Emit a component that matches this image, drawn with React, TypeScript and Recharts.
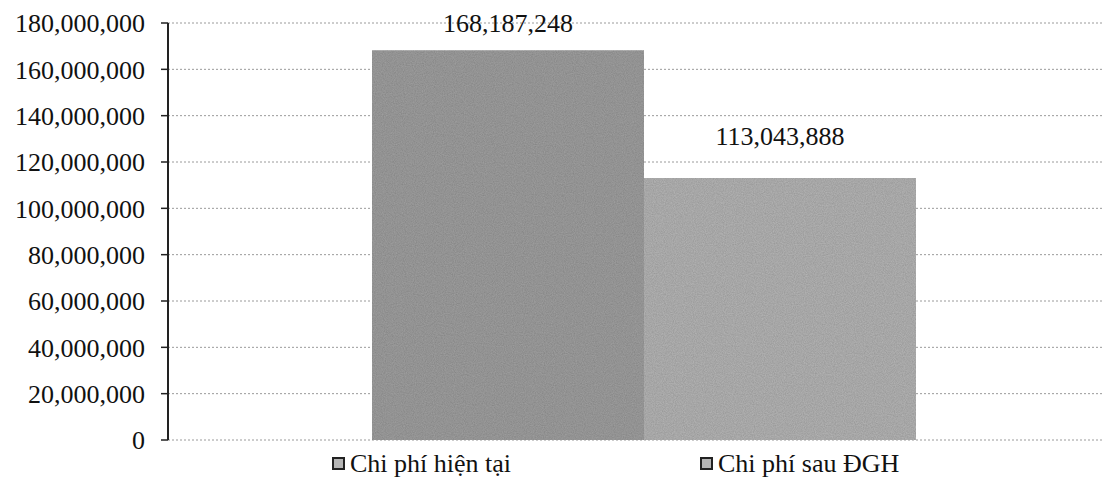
import React from 'react';
import { BarChart, Bar, XAxis, YAxis, CartesianGrid, Legend, LabelList } from 'recharts';

const categories = [''];
const currentCost = [168187248];
const afterCost = [113043888];
const seriesNames = ['Chi phí hiện tại', 'Chi phí sau ĐGH'];
const yTicks = [0, 20000000, 40000000, 60000000, 80000000, 100000000, 120000000, 140000000, 160000000, 180000000];

const data = categories.map((c, i) => ({ name: c, current: currentCost[i], after: afterCost[i] }));

const FONT = '"Liberation Serif", "Times New Roman", serif';
const fmt = (v: number) => v.toLocaleString('en-US');

const colors = ['#8b8b8b', '#a3a3a3'];

const LegendContent = () => (
  <div style={{ display: 'flex', boxSizing: 'border-box', height: 34, paddingTop: 13, alignItems: 'center', paddingLeft: 332, fontFamily: FONT, fontSize: 26, color: '#111', lineHeight: '22px' }}>
    {seriesNames.map((n, i) => (
      <div key={n} style={{ display: 'flex', alignItems: 'center', width: i === 0 ? 368 : 'auto' }}>
        <span style={{ display: 'inline-block', width: 9, height: 9, border: '2px solid #222', background: '#b5b5b5', marginRight: 5 }} />
        <span>{n}</span>
      </div>
    ))}
  </div>
);

export default function App() {
  return (
    <div style={{ position: 'absolute', left: 0, top: 0, width: 1103, height: 480, background: '#fff', overflow: 'hidden' }}>
      <BarChart
        width={1103}
        height={480}
        data={data}
        margin={{ top: 23, right: -16, left: 0, bottom: 6 }}
        barCategoryGap={204}
        barGap={0}
      >
        <defs>
          <filter id="grain" x="0" y="0" width="100%" height="100%">
            <feTurbulence type="fractalNoise" baseFrequency="0.9" numOctaves={2} seed={3} result="noise" />
            <feColorMatrix in="noise" type="matrix" values="0 0 0 0 0  0 0 0 0 0  0 0 0 0 0  0 0 0 0.35 0" result="dark" />
            <feComposite in="dark" in2="SourceGraphic" operator="in" result="darkClip" />
            <feMerge>
              <feMergeNode in="SourceGraphic" />
              <feMergeNode in="darkClip" />
            </feMerge>
          </filter>
        </defs>
        <CartesianGrid vertical={false} stroke="#9a9a9a" strokeDasharray="2 2" />
        <XAxis dataKey="name" hide />
        <YAxis
          width={168}
          domain={[0, 180000000]}
          ticks={yTicks}
          tickFormatter={fmt}
          tickSize={7}
          tickMargin={16}
          axisLine={{ stroke: '#222', strokeWidth: 2 }}
          tickLine={{ stroke: '#222', strokeWidth: 1.5 }}
          tick={{ fill: '#111', fontSize: 26, fontFamily: FONT }}
          interval={0}
        />
        <Legend verticalAlign="bottom" content={<LegendContent />} />
        <Bar dataKey="current" name={seriesNames[0]} fill="#a0a0a0" filter="url(#grain)" isAnimationActive={false}>
          <LabelList dataKey="current" position="top" offset={18} formatter={fmt} style={{ fill: '#111', fontSize: 26, fontFamily: FONT }} />
        </Bar>
        <Bar dataKey="after" name={seriesNames[1]} fill="#b6b6b6" filter="url(#grain)" isAnimationActive={false}>
          <LabelList dataKey="after" position="top" offset={33} formatter={fmt} style={{ fill: '#111', fontSize: 26, fontFamily: FONT }} />
        </Bar>
      </BarChart>
    </div>
  );
}
